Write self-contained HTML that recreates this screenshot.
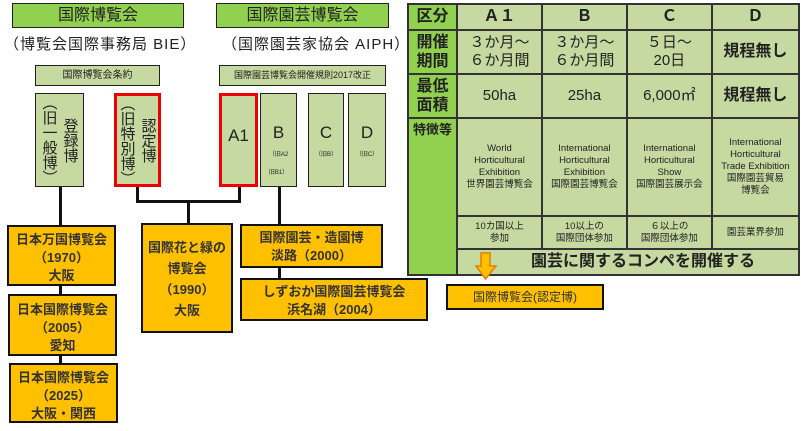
<!DOCTYPE html>
<html><head><meta charset="utf-8"><style>
*{margin:0;padding:0;box-sizing:border-box}
body{width:801px;height:431px;background:#fff;position:relative;overflow:hidden;font-family:"Liberation Sans","Noto Sans CJK JP",sans-serif;color:#222}
.a{position:absolute}
.g{background:#92d050;border:1px solid #222;text-align:center}
.p{background:#c6d9a0;border:1px solid #222;text-align:center}
.o{background:#ffc000;border:2px solid #111;text-align:center;font-weight:bold;color:#333}
.l{position:absolute;background:#111}
table{position:absolute;left:407px;top:3px;width:393px;height:271px;border-collapse:collapse;background:#c6d9a0}
td{border:2px solid #333;text-align:center;vertical-align:middle;line-height:1.2}
td.h{background:#92d050;font-weight:bold;font-size:16px}
.v{writing-mode:vertical-rl;font-size:15px;display:flex;align-items:center;justify-content:center}
.s{font-size:9.5px;line-height:1.25}
</style></head><body>
<div class="a g" style="left:12px;top:3px;width:172px;height:25px;font-size:16px;line-height:23px">国際博覧会</div>
<div class="a" style="left:4px;top:33px;width:200px;font-size:15px;letter-spacing:1px">（博覧会国際事務局 BIE）</div>
<div class="a g" style="left:216px;top:3px;width:173px;height:25px;font-size:16px;line-height:23px">国際園芸博覧会</div>
<div class="a" style="left:222px;top:33px;width:190px;font-size:15px;letter-spacing:1px">（国際園芸家協会 AIPH）</div>
<div class="a p" style="left:35px;top:65px;width:125px;height:21px;font-size:10px;line-height:19px">国際博覧会条約</div>
<div class="a p" style="left:219px;top:65px;width:167px;height:21px;font-size:9px;line-height:19px;white-space:nowrap">国際園芸博覧会開催規則2017改正</div>
<div class="a p v" style="left:35px;top:93px;width:49px;height:94px">登録博<br>（旧一般博）</div>
<div class="a p v" style="left:114px;top:93px;width:47px;height:94px;border:3px solid #e00">認定博<br>（旧特別博）</div>
<div class="a p" style="left:219px;top:93px;width:39px;height:94px;border:3px solid #e00;font-size:17px;padding-top:30px">A1</div>
<div class="a p" style="left:260px;top:93px;width:37px;height:94px;font-size:17px;padding-top:30px;line-height:18px">B<br><span style="font-size:6px;line-height:8px">（旧A2<br>旧B1）</span></div>
<div class="a p" style="left:308px;top:93px;width:36px;height:94px;font-size:17px;padding-top:30px;line-height:18px">C<br><span style="font-size:6px">（旧B）</span></div>
<div class="a p" style="left:348px;top:93px;width:38px;height:94px;font-size:17px;padding-top:30px;line-height:18px">D<br><span style="font-size:6px">（旧C）</span></div>
<div class="l" style="left:59px;top:187px;width:3px;height:180px"></div>
<div class="l" style="left:136px;top:187px;width:3px;height:16px"></div>
<div class="l" style="left:238px;top:187px;width:3px;height:16px"></div>
<div class="l" style="left:136px;top:200px;width:105px;height:3px"></div>
<div class="l" style="left:187px;top:200px;width:3px;height:24px"></div>
<div class="l" style="left:278px;top:187px;width:3px;height:91px"></div>
<div class="a o" style="left:7px;top:225px;width:109px;height:61px;font-size:13px;line-height:18px;padding-top:4px">日本万国博覧会<br>（1970）<br>大阪</div>
<div class="a o" style="left:8px;top:294px;width:109px;height:62px;font-size:13px;line-height:18px;padding-top:5px">日本国際博覧会<br>（2005）<br>愛知</div>
<div class="a o" style="left:9px;top:363px;width:109px;height:60px;font-size:13px;line-height:18px;padding-top:4px">日本国際博覧会<br>（2025）<br>大阪・関西</div>
<div class="a o" style="left:141px;top:223px;width:92px;height:110px;font-size:13px;line-height:21px;padding-top:12px">国際花と緑の<br>博覧会<br>（1990）<br>大阪</div>
<div class="a o" style="left:240px;top:224px;width:143px;height:44px;font-size:13px;line-height:18px;padding-top:3px">国際園芸・造園博<br>淡路（2000）</div>
<div class="a o" style="left:240px;top:278px;width:188px;height:43px;font-size:13px;line-height:18px;padding-top:3px">しずおか国際園芸博覧会<br>浜名湖（2004）</div>
<table>
<tr style="height:26px"><td class="h" style="width:49px">区分</td><td style="font-size:16px;font-weight:bold">Ａ１</td><td style="font-size:16px;font-weight:bold">Ｂ</td><td style="font-size:16px;font-weight:bold">Ｃ</td><td style="font-size:16px;font-weight:bold">Ｄ</td></tr>
<tr style="height:44px"><td class="h">開催<br>期間</td><td style="font-size:15px">３か月～<br>６か月間</td><td style="font-size:15px">３か月～<br>６か月間</td><td style="font-size:15px">５日～<br>20日</td><td style="font-size:16px;font-weight:bold">規程無し</td></tr>
<tr style="height:44px"><td class="h">最低<br>面積</td><td style="font-size:15px">50ha</td><td style="font-size:15px">25ha</td><td style="font-size:15px">6,000㎡</td><td style="font-size:16px;font-weight:bold">規程無し</td></tr>
<tr style="height:98px"><td class="h" rowspan="3" style="vertical-align:top;font-size:13px;padding-top:3px">特徴等</td><td class="s">World<br>Horticultural<br>Exhibition<br>世界園芸博覧会</td><td class="s">International<br>Horticultural<br>Exhibition<br>国際園芸博覧会</td><td class="s">International<br>Horticultural<br>Show<br>国際園芸展示会</td><td class="s">International<br>Horticultural<br>Trade Exhibition<br>国際園芸貿易<br>博覧会</td></tr>
<tr style="height:33px"><td class="s">10カ国以上<br>参加</td><td class="s">10以上の<br>国際団体参加</td><td class="s">６以上の<br>国際団体参加</td><td class="s">園芸業界参加</td></tr>
<tr style="height:26px"><td colspan="4" style="font-size:16px;font-weight:bold;padding-left:30px">園芸に関するコンペを開催する</td></tr>
</table>
<svg class="a" style="left:475px;top:252px" width="22" height="28"><path d="M6 1H15V14H21L10.5 27L1 14H6Z" fill="#ffc000" stroke="#e08000" stroke-width="1.5"/></svg>
<div class="a o" style="left:446px;top:284px;width:158px;height:26px;font-size:12px;font-weight:normal;line-height:22px">国際博覧会(認定博)</div>
</body></html>
